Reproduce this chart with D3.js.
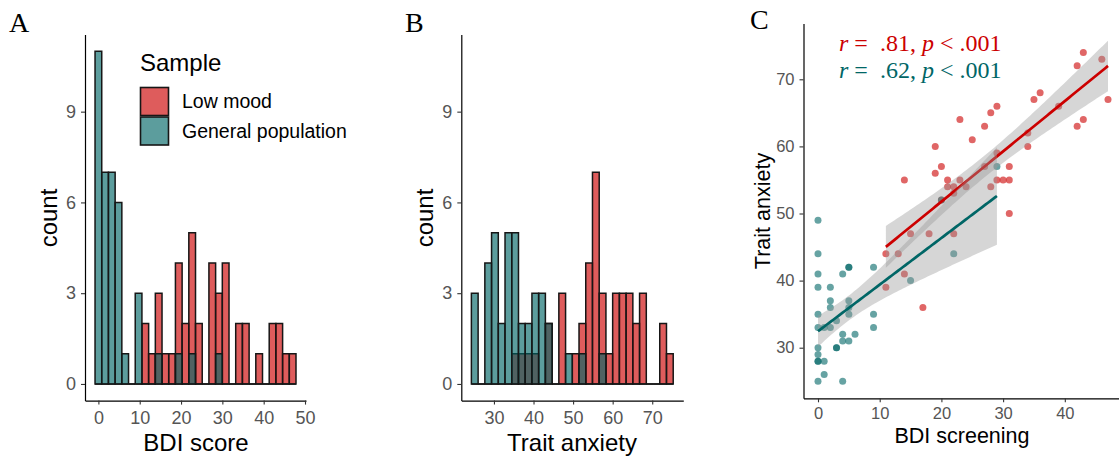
<!DOCTYPE html>
<html>
<head>
<meta charset="utf-8">
<script src="https://cdn.jsdelivr.net/npm/d3@7"></script>
<style>
  body { margin: 0; background: #fff; }
  svg { display: block; }
</style>
</head>
<body>
<svg id="fig" width="1119" height="458"></svg>
<script>
// ---------- data ----------
const groups = ["Low mood", "General population"];

// BDI score histogram: 30 bins
const bdiBinStart = -0.81;
const bdiBinWidth = 1.621;
const bdiLowMood   = [0,0,0,0,0,0,0,2,1,3,1,1,4,2,5,2,0,4,3,4,0,2,2,0,1,0,2,2,1,1];
const bdiGeneral   = [11,7,7,6,1,0,3,0,0,1,0,0,1,0,1,0,0,0,1,0,0,0,0,0,0,0,0,0,0,0];

// Trait anxiety histogram: 30 bins
const anxBinStart = 24.3;
const anxBinWidth = 1.7;
const anxLowMood   = [0,0,0,0,0,0,1,1,1,1,0,2,0,3,0,1,2,4,7,3,1,3,3,3,2,3,0,0,2,1];
const anxGeneral   = [3,0,4,5,2,5,5,2,2,3,3,2,0,0,1,0,1,0,0,1,0,0,0,0,0,0,0,0,0,0];

// Scatter: BDI screening vs trait anxiety
const lowMoodBDI = [14,19,19,20,20,21,21,22,22,23,23,24,25,27,27,28,28,29,29,29,30,31,31,31,34,34,35,36,39,42,42,43,43,46,47,11,13,15,18,22,14,11,17];
const lowMoodAnx = [55,60,56,57,52,55,54,54,53,64,55,54,61,63,57,65,54,66,59,55,55,57,55,50,62,60,67,68,66,72,63,74,64,73,67,44,44,47,47,47,41,39,36];
const generalBDI = [0,0,0,0,0,0,0,0,0,0,0, 1,1,1, 2,2,2,2, 3,3,3, 4,4,4,4, 5,5,5,5,5,5, 6, 9,9,9, 15,20,22,29];
const generalAnx = [49,44,41,39,35,33,30,29,28,28,25, 33,28,26, 39,37,36,33, 34,30,30, 41,32,31,25, 42,42,37,36,35,31, 32, 42,35,33, 40,52,44,57];

const histTicksY = [0, 3, 6, 9];
const bdiTicks = [0, 10, 20, 30, 40, 50];
const anxTicks = [30, 40, 50, 60, 70];
const scatterTicksX = [0, 10, 20, 30, 40];
const scatterTicksY = [30, 40, 50, 60, 70];

// ---------- styles ----------
const colors = { "Low mood": "#cc0000", "General population": "#006666" };
const barAlpha = 0.64;
const pointAlpha = 0.6;
const sans = "'Liberation Sans', Arial, Helvetica, sans-serif";
const serif = "'Liberation Serif', 'Times New Roman', serif";
const tickGrey = "#555555";

const svg = d3.select("#fig");

function styleAxis(g, fontSize) {
  g.select(".domain").attr("stroke", "#000").attr("stroke-width", 1.2);
  g.selectAll(".tick line").attr("stroke", "#333").attr("stroke-width", 1.1);
  g.selectAll(".tick text")
    .attr("fill", tickGrey)
    .attr("font-family", sans)
    .attr("font-size", fontSize);
}

// ---------- histograms ----------
const yCount = d3.scaleLinear().domain([-0.55, 11.55]).range([400.6, 34.5]);

function histogram(opts) {
  const g = svg.append("g");
  const x = d3.scaleLinear().domain(opts.domain).range(opts.range);
  const series = [
    { name: groups[0], counts: opts.low },
    { name: groups[1], counts: opts.gen }
  ];
  series.forEach(s => {
    g.append("g").selectAll("path")
      .data(s.counts)
      .join("path")
      .attr("d", (c, i) => {
        const x0 = x(opts.start + i * opts.width);
        const x1 = x(opts.start + (i + 1) * opts.width);
        const y0 = yCount(0), y1 = yCount(c);
        return `M${x0},${y0}V${y1}H${x1}V${y0}Z`;
      })
      .attr("fill", colors[s.name])
      .attr("fill-opacity", barAlpha)
      .attr("stroke", "#161616")
      .attr("stroke-width", 1.5)
      .attr("stroke-linejoin", "miter");
  });

  const ax = g.append("g")
    .attr("transform", `translate(0,${yCount.range()[0]})`)
    .call(d3.axisBottom(x).tickValues(opts.ticks).tickSize(4).tickSizeOuter(0).tickPadding(7));
  styleAxis(ax, 18);
  const ay = g.append("g")
    .attr("transform", `translate(${opts.range[0]},0)`)
    .call(d3.axisLeft(yCount).tickValues(histTicksY).tickSize(4).tickSizeOuter(0).tickPadding(5));
  styleAxis(ay, 18);

  g.append("text")
    .attr("x", opts.titleX).attr("y", 451)
    .attr("text-anchor", "middle")
    .attr("font-family", sans).attr("font-size", 24)
    .text(opts.title);
  g.append("text")
    .attr("transform", `translate(${opts.countX},218) rotate(-90)`)
    .attr("text-anchor", "middle")
    .attr("font-family", sans).attr("font-size", 24)
    .text("count");
  return g;
}

histogram({
  domain: [-3.24, 50.24], range: [85, 306],
  start: bdiBinStart, width: bdiBinWidth,
  low: bdiLowMood, gen: bdiGeneral,
  ticks: bdiTicks, title: "BDI score", titleX: 196, countX: 56.5
});
histogram({
  domain: [21.75, 77.85], range: [461.3, 683.3],
  start: anxBinStart, width: anxBinWidth,
  low: anxLowMood, gen: anxGeneral,
  ticks: anxTicks, title: "Trait anxiety", titleX: 572, countX: 433
});

// legend
const legend = svg.append("g");
legend.append("text")
  .attr("x", 140).attr("y", 71)
  .attr("font-family", sans).attr("font-size", 24)
  .text("Sample");
groups.forEach((name, i) => {
  legend.append("rect")
    .attr("x", 140.5).attr("y", 87.5 + i * 29.5)
    .attr("width", 28).attr("height", 28)
    .attr("fill", colors[name]).attr("fill-opacity", barAlpha)
    .attr("stroke", "#161616").attr("stroke-width", 1.6);
  legend.append("text")
    .attr("x", 182).attr("y", 108 + i * 30)
    .attr("font-family", sans).attr("font-size", 19.5)
    .text(name);
});

// ---------- scatter with linear fits ----------
const xs = d3.scaleLinear().domain([-2.35, 49.35]).range([803.5, 1122.5]);
const ys = d3.scaleLinear().domain([22.46, 78.3]).range([398.3, 23.6]);
const tCrit = 2.02;

function linearFit(xv, yv) {
  const n = xv.length;
  const mx = d3.mean(xv), my = d3.mean(yv);
  let sxx = 0, sxy = 0;
  xv.forEach((v, i) => { sxx += (v - mx) ** 2; sxy += (v - mx) * (yv[i] - my); });
  const b = sxy / sxx, a = my - b * mx;
  let sse = 0;
  xv.forEach((v, i) => { sse += (yv[i] - a - b * v) ** 2; });
  const s = Math.sqrt(sse / (n - 2));
  return { a, b, s, n, mx, sxx, lo: d3.min(xv), hi: d3.max(xv) };
}

const sc = svg.append("g");
const scatterSets = [
  { name: groups[0], x: lowMoodBDI, y: lowMoodAnx },
  { name: groups[1], x: generalBDI, y: generalAnx }
];

scatterSets.forEach(set => {
  sc.append("g").selectAll("circle")
    .data(set.x.map((v, i) => [v, set.y[i]]))
    .join("circle")
    .attr("cx", d => xs(d[0]))
    .attr("cy", d => ys(d[1]))
    .attr("r", 3.5)
    .attr("fill", colors[set.name])
    .attr("fill-opacity", pointAlpha);
});

scatterSets.forEach(set => {
  const f = linearFit(set.x, set.y);
  const grid = d3.range(0, 81).map(k => f.lo + (f.hi - f.lo) * k / 80);
  const band = grid.map(v => {
    const fitV = f.a + f.b * v;
    const se = f.s * Math.sqrt(1 / f.n + (v - f.mx) ** 2 / f.sxx);
    return { x: v, y: fitV, lo: fitV - tCrit * se, hi: fitV + tCrit * se };
  });
  sc.append("path")
    .datum(band)
    .attr("d", d3.area().x(d => xs(d.x)).y0(d => ys(d.lo)).y1(d => ys(d.hi)))
    .attr("fill", "#999999").attr("fill-opacity", 0.4);
  sc.append("path")
    .datum(band)
    .attr("d", d3.line().x(d => xs(d.x)).y(d => ys(d.y)))
    .attr("fill", "none")
    .attr("stroke", colors[set.name])
    .attr("stroke-width", 2.7);
});

const cx = sc.append("g")
  .attr("transform", `translate(0,${ys.range()[0]})`)
  .call(d3.axisBottom(xs).tickValues(scatterTicksX).tickSize(4).tickSizeOuter(0).tickPadding(4.5));
styleAxis(cx, 16.5);
const cy = sc.append("g")
  .attr("transform", `translate(${xs.range()[0]},0)`)
  .call(d3.axisLeft(ys).tickValues(scatterTicksY).tickSize(4).tickSizeOuter(0).tickPadding(5));
styleAxis(cy, 16.5);

sc.append("text")
  .attr("x", 962).attr("y", 443)
  .attr("text-anchor", "middle")
  .attr("font-family", sans).attr("font-size", 21.5)
  .text("BDI screening");
sc.append("text")
  .attr("transform", "translate(770,211) rotate(-90)")
  .attr("text-anchor", "middle")
  .attr("font-family", sans).attr("font-size", 21.5)
  .text("Trait anxiety");

// correlation annotations
const stats = [
  { name: groups[0], r: ".81", p: ".001", y: 51 },
  { name: groups[1], r: ".62", p: ".001", y: 78 }
];
stats.forEach(st => {
  const t = sc.append("text")
    .attr("x", 839).attr("y", st.y)
    .attr("font-family", serif).attr("font-size", 24)
    .attr("fill", colors[st.name])
    .attr("xml:space", "preserve");
  t.append("tspan").attr("font-style", "italic").text("r");
  t.append("tspan").text(" =  " + st.r + ", ");
  t.append("tspan").attr("font-style", "italic").text("p");
  t.append("tspan").text(" < " + st.p);
});

// panel letters
[["A", 9, 31.5], ["B", 405, 31.5], ["C", 750, 28.5]].forEach(([lab, x, y]) => {
  svg.append("text")
    .attr("x", x).attr("y", y)
    .attr("font-family", serif).attr("font-size", 28)
    .text(lab);
});
</script>
</body>
</html>
